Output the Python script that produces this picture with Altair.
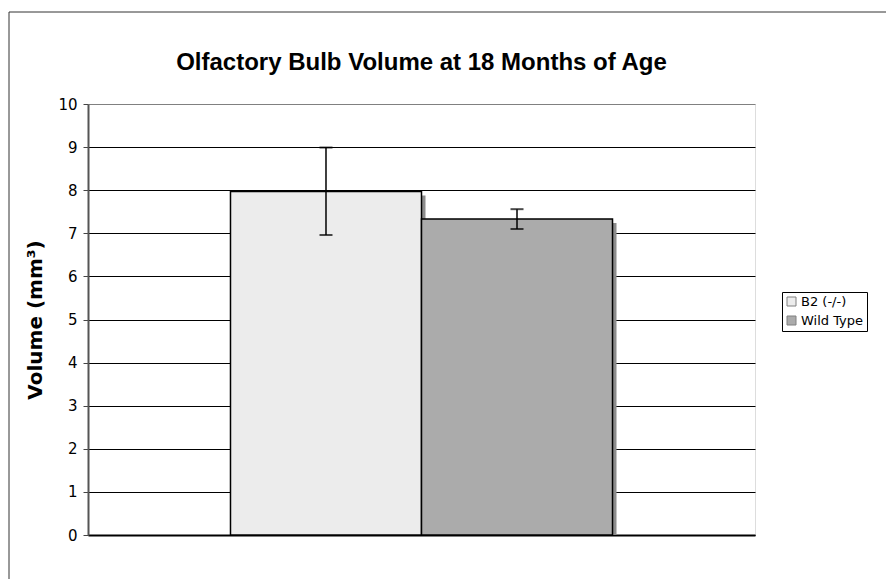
import altair as alt
import pandas as pd

series = ["B2 (-/-)", "Wild Type"]
means = [7.97, 7.33]
err_hi = [8.99, 7.56]
err_lo = [6.96, 7.10]
colors = ["#ececec", "#ababab"]
title_text = "Olfactory Bulb Volume at 18 Months of Age"

df = pd.DataFrame({"series": series, "mean": means, "hi": err_hi, "lo": err_lo, "zero": [0, 0]})

W, H = 667, 431

xscale = alt.Scale(domain=series, paddingInner=0, paddingOuter=0.746)
x = alt.X("series:N", scale=xscale, axis=alt.Axis(labels=False, ticks=False, title=None,
                                                  domainColor="black", domainWidth=2, grid=False))
yscale = alt.Scale(domain=[0, 10], nice=False)
yaxis = alt.Axis(values=list(range(0, 11)), title="Volume  (mm³)", titleFont="DejaVu Sans",
                 titleFontSize=20, titleFontWeight="bold", titleColor="black", titlePadding=12,
                 labelFont="DejaVu Sans", labelFontSize=15, labelColor="black", labelPadding=6,
                 tickSize=5, tickColor="#444", domainColor="#555", domainWidth=2,
                 grid=True,
                 gridColor=alt.condition("datum.value === 10", alt.value("#808080"), alt.value("black")),
                 gridWidth=1)

base = alt.Chart(df)

border = alt.Chart(alt.Data(values=[{}])).mark_rect(fill=None, stroke="#333", strokeWidth=1).encode(
    x=alt.value(-79), x2=alt.value(900), y=alt.value(-92), y2=alt.value(600))

title = alt.Chart(alt.Data(values=[{"t": title_text}])).mark_text(
    font="Liberation Sans", fontSize=24, fontWeight="bold", color="black",
    align="center", baseline="alphabetic").encode(
    x=alt.value(W / 2), y=alt.value(-34), text="t:N")

shadow = base.mark_bar(color="#8c8c8c", xOffset=4, yOffset=4, y2Offset=0).encode(
    x=x, y=alt.Y("mean:Q", scale=yscale, axis=yaxis), y2="zero:Q")

bars = base.mark_bar(stroke="black", strokeWidth=1.5).encode(
    x=x,
    y=alt.Y("mean:Q", scale=yscale, axis=yaxis),
    fill=alt.Fill("series:N", scale=alt.Scale(domain=series, range=colors),
                  legend=alt.Legend(title=None, orient="none", legendX=694, legendY=188,
                                    symbolType="square", symbolSize=81, symbolStrokeColor="#808080",
                                    symbolStrokeWidth=1, labelFont="DejaVu Sans", labelFontSize=13,
                                    labelColor="black", strokeColor="black", padding=3,
                                    rowPadding=5, labelOffset=3, fillColor="white")),
)

rule = base.mark_rule(color="black", strokeWidth=1.5).encode(x=x, y="lo:Q", y2="hi:Q")
cap_hi = base.mark_tick(color="black", size=13, thickness=2).encode(x=x, y="hi:Q")
cap_lo = base.mark_tick(color="black", size=13, thickness=2).encode(x=x, y="lo:Q")

chart = alt.layer(border, title, shadow, bars, rule, cap_hi, cap_lo).properties(
    width=W, height=H,
    autosize=alt.AutoSizeParams(type="none"),
    padding={"left": 80, "top": 96, "right": 131, "bottom": 44},
).configure_view(stroke="#808080", strokeWidth=2).configure(background="white")

chart.save("out.html", embed_options={"renderer": "svg", "actions": False})
